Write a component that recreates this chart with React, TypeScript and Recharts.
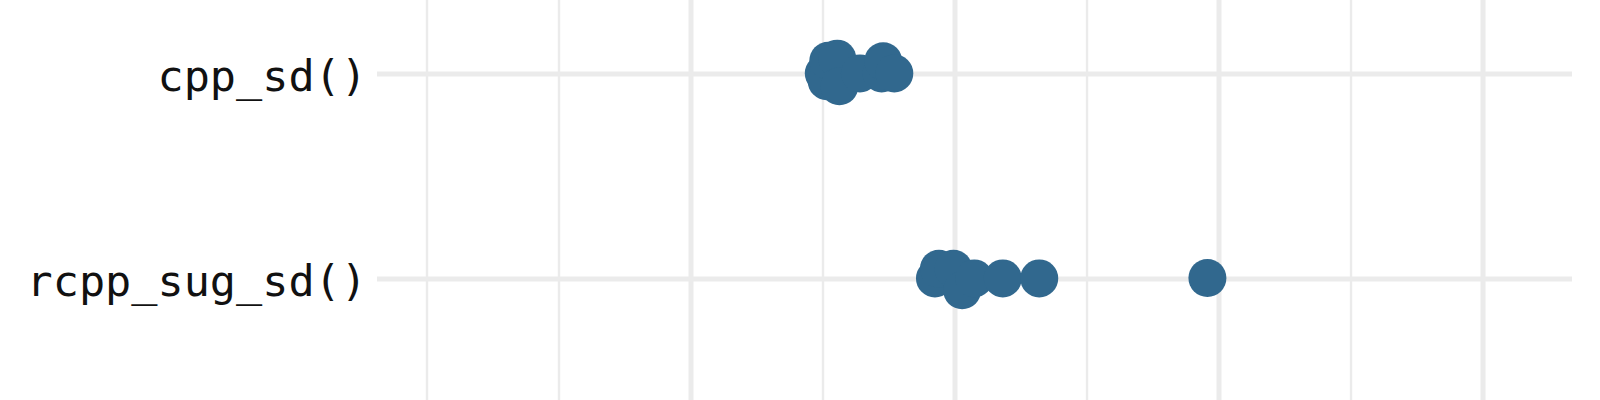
import React from 'react';
import { ScatterChart, Scatter, XAxis, YAxis, ReferenceLine } from 'recharts';

// categories, bottom to top (ggplot order)
const categories = ['rcpp_sug_sd()', 'cpp_sd()'];

// run times (axis units) and vertical jitter for each expression
const rcppSugSdTimes = [2.924, 2.939, 2.994, 3.027, 3.073, 3.181, 3.319, 3.956];
const rcppSugSdJitter = [0.003, 0.05, 0.05, -0.055, 0.003, 0.003, 0.003, 0.005];
const cppSdTimes = [2.503, 2.514, 2.52, 2.554, 2.562, 2.64, 2.722, 2.728, 2.77];
const cppSdJitter = [0.003, -0.035, 0.065, 0.075, -0.06, 0.003, 0.003, 0.062, 0.003];

// grid breaks on the x axis
const majorBreaks = [2, 3, 4, 5];
const minorBreaks = [1, 1.5, 2.5, 3.5, 4.5];

const POINT = '#31688E';
const GRID = '#EBEBEB';

const toPoints = (times: number[], jitter: number[], row: number) =>
  times.map((t, i) => ({ time: t, y: row + jitter[i] }));

const rcppData = toPoints(rcppSugSdTimes, rcppSugSdJitter, 1);
const cppData = toPoints(cppSdTimes, cppSdJitter, 2);

const Dot = (props: any) => <circle cx={props.cx} cy={props.cy} r={19} fill={POINT} />;

const CategoryTick = ({ x, y, payload }: any) => (
  <text
    x={x}
    y={y}
    dy={17}
    textAnchor="end"
    fill="#111111"
    fontSize={43.5}
    fontFamily="'DejaVu Sans Mono', monospace"
  >
    {categories[payload.value - 1]}
  </text>
);

const App: React.FC = () => {
  return (
    <div style={{ position: 'fixed', left: 0, top: 0, width: 1600, height: 400, background: '#fff' }}>
      <ScatterChart width={1600} height={400} margin={{ top: 0, right: 28, bottom: 0, left: 0 }}>
        <XAxis
          type="number"
          dataKey="time"
          domain={[0.8106, 5.337]}
          allowDataOverflow
          hide
        />
        <YAxis
          type="number"
          dataKey="y"
          domain={[0.4098, 2.361]}
          allowDataOverflow
          ticks={[1, 2]}
          width={377}
          axisLine={false}
          tickLine={false}
          tickMargin={4}
          tick={<CategoryTick />}
        />
        {minorBreaks.map((b) => (
          <ReferenceLine key={'mi' + b} x={b} stroke={GRID} strokeWidth={2.4} />
        ))}
        {majorBreaks.map((b) => (
          <ReferenceLine key={'ma' + b} x={b} stroke={GRID} strokeWidth={5} />
        ))}
        {[1, 2].map((r) => (
          <ReferenceLine key={'row' + r} y={r} stroke={GRID} strokeWidth={5} />
        ))}
        <Scatter data={cppData} shape={<Dot />} isAnimationActive={false} />
        <Scatter data={rcppData} shape={<Dot />} isAnimationActive={false} />
      </ScatterChart>
    </div>
  );
};

export default App;
